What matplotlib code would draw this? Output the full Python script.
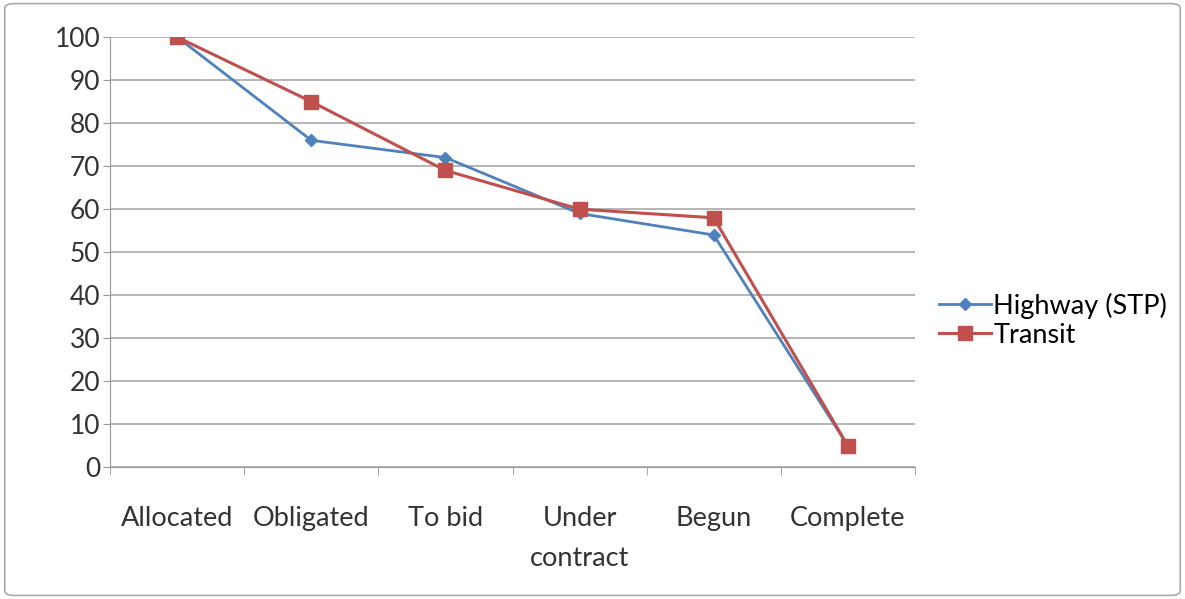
import numpy as np
import matplotlib.pyplot as plt
from matplotlib.patches import FancyBboxPatch

categories = ["Allocated", "Obligated", "To bid", "Under\ncontract", "Begun", "Complete"]
highway = [100, 76, 72, 59, 54, 5]
transit = [100, 85, 69, 60, 58, 5]

plt.rcParams['font.family'] = ['Lato', 'DejaVu Sans']

fig = plt.figure(figsize=(11.85, 5.99), dpi=100)
ax = fig.add_axes([0.093, 0.220, 0.679, 0.718])

x = np.arange(len(categories))
ax.plot(x, highway, color="#4F81BD", marker="D", markersize=6, lw=2, label="Highway (STP)")
ax.plot(x, transit, color="#C0504D", marker="s", markersize=10, lw=2.2, label="Transit")

ax.set_xlim(-0.5, len(categories) - 0.5)
ax.set_ylim(0, 100)
ax.set_yticks(range(0, 101, 10))
ax.set_xticks(x)
ax.set_xticklabels(categories, fontsize=19.5, color="#333333", linespacing=1.75, va="top")
ax.set_xticks(np.arange(-0.5, len(categories)), minor=True)
ax.tick_params(axis="x", which="major", length=0, pad=28)
ax.tick_params(axis="x", which="minor", length=6, color="#999999", direction="out")
ax.tick_params(axis="y", length=5, color="#999999", labelsize=19, labelcolor="#333333", pad=2)
ax.grid(axis="y", color="#b0b0b0", lw=1.3)
ax.set_axisbelow(True)
for s in ["top", "right"]:
    ax.spines[s].set_visible(False)
for s in ["left", "bottom"]:
    ax.spines[s].set_color("#999999")

ax.legend(loc="center left", bbox_to_anchor=(1.0, 0.342), frameon=False,
          fontsize=19.5, handlelength=1.9, handletextpad=0.1, labelspacing=0.15)

fig.patches.append(FancyBboxPatch((0.004, 0.006), 0.992, 0.988, boxstyle="round,pad=0,rounding_size=0.008",
                                  transform=fig.transFigure, fill=False, ec="#aaaaaa", lw=1.2))
fig.savefig("out.png", dpi=100)
